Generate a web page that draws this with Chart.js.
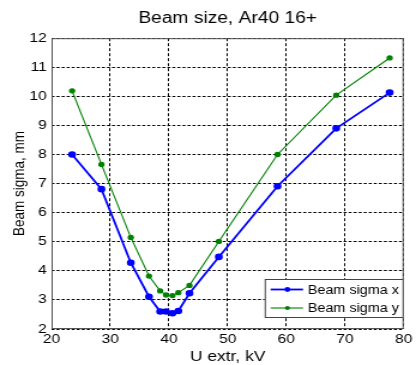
<!DOCTYPE html>
<html>
<head>
<meta charset="utf-8">
<script src="https://cdn.jsdelivr.net/npm/chart.js@4/dist/chart.umd.min.js"></script>
<style>
  html, body { margin: 0; padding: 0; background: #fff; overflow: hidden; }
  /* the reference figure is stretched sideways by about 1.2, so the chart is
     drawn 347px wide and widened to 416px */
  #wrap { width: 347px; height: 365px; transform: scaleX(1.1988); transform-origin: 0 0; }
</style>
</head>
<body>
<div id="wrap"><canvas id="beam-chart"></canvas></div>
<script>
// extraction voltage, kV
const uExtr = [23.5, 28.5, 33.5, 36.6, 38.5, 39.5, 40.6, 41.6, 43.5, 48.5, 58.5, 68.5, 77.6];
// beam sigma, mm
const sigmaX = [8.0, 6.81, 4.28, 3.11, 2.6, 2.6, 2.54, 2.62, 3.23, 4.48, 6.91, 8.9, 10.13];
const sigmaY = [10.19, 7.66, 5.15, 3.82, 3.31, 3.17, 3.15, 3.25, 3.5, 5.01, 8.0, 10.04, 11.32];

const seriesNames = ["Beam sigma x", "Beam sigma y"];
const FONT = "'Liberation Sans', Arial, sans-serif";

function toPoints(values) {
  return uExtr.map((u, i) => ({ x: u, y: values[i] }));
}

// box round the axes + legend inside the lower right corner
const frameAndLegend = {
  id: "frameAndLegend",
  afterDraw(chart) {
    const { ctx, chartArea: a } = chart;
    ctx.save();
    ctx.strokeStyle = "#555";
    ctx.lineWidth = 1;
    ctx.strokeRect(a.left + 0.5, a.top + 0.5, a.right - a.left - 1, a.bottom - a.top - 1);

    const boxW = 116, boxH = 39;
    const bx = a.right - boxW, by = 279;
    ctx.fillStyle = "#fff";
    ctx.fillRect(bx, by, boxW, boxH);
    ctx.strokeStyle = "#444";
    ctx.strokeRect(bx + 0.5, by + 0.5, boxW - 1, boxH - 1);

    chart.data.datasets.forEach((ds, i) => {
      const y = by + 10.5 + i * 18.5;
      ctx.strokeStyle = ds.borderColor;
      ctx.lineWidth = ds.borderWidth;
      ctx.beginPath();
      ctx.moveTo(bx + 5, y);
      ctx.lineTo(bx + 32, y);
      ctx.stroke();
      ctx.fillStyle = ds.borderColor;
      ctx.beginPath();
      ctx.arc(bx + 19, y, ds.pointRadius, 0, Math.PI * 2);
      ctx.fill();
      ctx.fillStyle = "#000";
      ctx.font = "12px " + FONT;
      ctx.textBaseline = "middle";
      ctx.fillText(ds.label, bx + 36, y + 1);
    });
    ctx.restore();
  },
};

new Chart(document.querySelector("#beam-chart"), {
  type: "line",
  data: {
    datasets: [
      {
        label: seriesNames[0],
        data: toPoints(sigmaX),
        borderColor: "#0000ff",
        backgroundColor: "#0000ff",
        borderWidth: 1.8,
        pointRadius: 2.4,
        pointHoverRadius: 2.4,
        tension: 0,
      },
      {
        label: seriesNames[1],
        data: toPoints(sigmaY),
        borderColor: "#008000",
        backgroundColor: "#008000",
        borderWidth: 1.1,
        pointRadius: 2.1,
        pointHoverRadius: 2.1,
        tension: 0,
      },
    ],
  },
  options: {
    animation: false,
    responsive: true,
    maintainAspectRatio: false,
    layout: { padding: { left: 0, right: 4, top: 0, bottom: 0 } },
    scales: {
      x: {
        type: "linear",
        min: 20,
        max: 80,
        afterFit(scale) { scale.height = 36; },
        ticks: {
          stepSize: 10,
          padding: 3,
          color: "#000",
          font: { family: FONT, size: 13 },
        },
        grid: { color: "#000", lineWidth: 1, drawTicks: false },
        border: { display: false, dash: [3, 2] },
        title: {
          display: true,
          text: "U extr, kV",
          color: "#000",
          font: { family: FONT, size: 14.5 },
          padding: { top: 0, bottom: -1 },
        },
      },
      y: {
        min: 2,
        max: 12,
        afterFit(scale) { scale.width = 43; },
        ticks: {
          stepSize: 1,
          padding: 4,
          color: "#000",
          font: { family: FONT, size: 13 },
        },
        grid: { color: "#000", lineWidth: 1, drawTicks: false },
        border: { display: false, dash: [2.5, 1.7] },
        title: {
          display: true,
          text: "Beam sigma, mm",
          color: "#000",
          font: { family: FONT, size: 13.5 },
          padding: { top: 8, bottom: 0 },
        },
      },
    },
    plugins: {
      legend: { display: false },
      tooltip: { enabled: false },
      title: {
        display: true,
        text: "Beam size, Ar40 16+",
        fullSize: false,
        color: "#000",
        font: { family: FONT, size: 16, weight: "normal" },
        padding: { top: 9, bottom: 10 },
      },
    },
  },
  plugins: [frameAndLegend],
});
</script>
</body>
</html>
